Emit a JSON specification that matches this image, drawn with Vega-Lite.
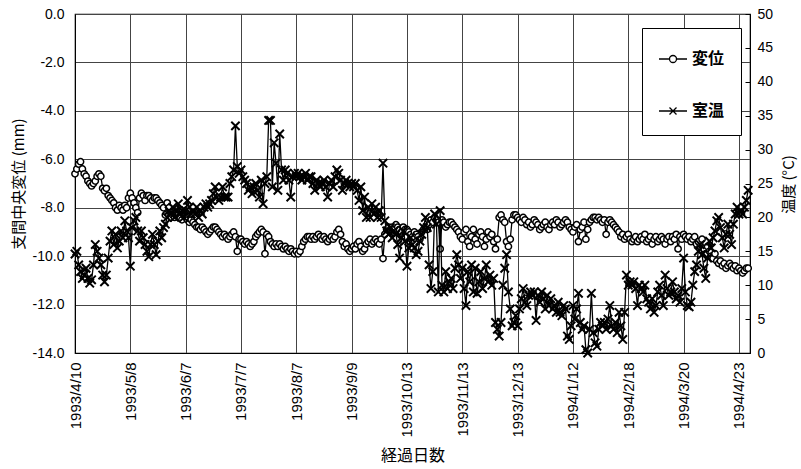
{
"$schema":"https://vega.github.io/schema/vega-lite/v6.json",
"width":675,"height":339,"autosize":"none",
"padding":{"left":75,"top":14,"right":51,"bottom":116},
"background":"white",
"config":{"view":{"stroke":"black","strokeWidth":1.2},
"axis":{"labelFont":"Liberation Sans","labelFontSize":14,"labelColor":"black","titleFont":"Noto Sans CJK JP","titleFontSize":15,"titleFontWeight":"normal","titleColor":"black","gridColor":"#444","gridWidth":1,"gridOpacity":1,"domainColor":"black","tickColor":"black"},
"legend":{"labelFont":"Noto Sans CJK JP","labelFontSize":16,"labelFontWeight":"bold","labelColor":"black"}},
"data":{"values":[
{"i":0,"d":-6.6,"t":14.6},{"i":1,"d":-6.4,"t":15.0},{"i":2,"d":-6.2,"t":13.0},{"i":3,"d":-6.1,"t":12.0},{"i":4,"d":-6.4,"t":11.0},{"i":5,"d":-6.6,"t":11.5},{"i":6,"d":-6.7,"t":12.5},{"i":7,"d":-6.9,"t":11.0},{"i":8,"d":-7.0,"t":10.3},{"i":9,"d":-7.1,"t":10.8},
{"i":10,"d":-7.0,"t":13.0},{"i":11,"d":-6.9,"t":16.0},{"i":12,"d":-6.7,"t":15.0},{"i":13,"d":-6.6,"t":14.0},{"i":14,"d":-6.7,"t":13.0},{"i":15,"d":-7.2,"t":11.5},{"i":16,"d":-7.3,"t":10.5},{"i":17,"d":-7.2,"t":11.5},{"i":18,"d":-7.5,"t":14.0},{"i":19,"d":-7.6,"t":16.5},
{"i":20,"d":-7.7,"t":18.0},{"i":21,"d":-7.8,"t":16.0},{"i":22,"d":-8.0,"t":17.5},{"i":23,"d":-8.1,"t":15.5},{"i":24,"d":-7.9,"t":16.5},{"i":25,"d":-8.0,"t":18.0},{"i":26,"d":-8.1,"t":17.0},{"i":27,"d":-7.9,"t":19.5},{"i":28,"d":-8.0,"t":18.0},{"i":29,"d":-7.6,"t":17.0},
{"i":30,"d":-7.4,"t":12.8},{"i":31,"d":-7.6,"t":18.5},{"i":32,"d":-7.8,"t":19.5},{"i":33,"d":-8.0,"t":20.0},{"i":34,"d":-8.2,"t":18.0},{"i":35,"d":-7.6,"t":16.5},{"i":36,"d":-7.4,"t":18.0},{"i":37,"d":-7.5,"t":17.0},{"i":38,"d":-7.7,"t":16.0},{"i":39,"d":-7.5,"t":15.0},
{"i":40,"d":-7.5,"t":14.2},{"i":41,"d":-7.6,"t":16.0},{"i":42,"d":-7.7,"t":17.5},{"i":43,"d":-7.6,"t":16.0},{"i":44,"d":-7.6,"t":14.5},{"i":45,"d":-7.7,"t":16.5},{"i":46,"d":-7.8,"t":18.0},{"i":47,"d":-7.9,"t":17.0},{"i":48,"d":-8.0,"t":18.5},{"i":49,"d":-8.3,"t":19.0},
{"i":50,"d":-7.8,"t":20.0},{"i":51,"d":-8.0,"t":21.0},{"i":52,"d":-8.2,"t":20.5},{"i":53,"d":-8.3,"t":21.5},{"i":54,"d":-8.4,"t":20.0},{"i":55,"d":-8.2,"t":21.0},{"i":56,"d":-8.3,"t":22.0},{"i":57,"d":-8.4,"t":20.5},{"i":58,"d":-8.5,"t":21.0},{"i":59,"d":-8.3,"t":20.0},
{"i":60,"d":-8.4,"t":21.0},{"i":61,"d":-8.5,"t":22.5},{"i":62,"d":-8.6,"t":21.5},{"i":63,"d":-8.5,"t":20.5},{"i":64,"d":-8.6,"t":21.0},{"i":65,"d":-8.7,"t":20.5},{"i":66,"d":-8.8,"t":21.5},{"i":67,"d":-8.8,"t":20.0},{"i":68,"d":-8.9,"t":21.0},{"i":69,"d":-8.8,"t":20.5},
{"i":70,"d":-8.9,"t":21.5},{"i":71,"d":-9.0,"t":22.0},{"i":72,"d":-9.1,"t":21.5},{"i":73,"d":-9.0,"t":22.0},{"i":74,"d":-8.9,"t":22.5},{"i":75,"d":-8.8,"t":23.5},{"i":76,"d":-8.8,"t":24.5},{"i":77,"d":-8.9,"t":23.0},{"i":78,"d":-9.0,"t":22.5},{"i":79,"d":-9.1,"t":23.0},
{"i":80,"d":-9.2,"t":24.5},{"i":81,"d":-9.1,"t":23.0},{"i":82,"d":-9.2,"t":23.0},{"i":83,"d":-9.3,"t":23.0},{"i":84,"d":-9.2,"t":25.0},{"i":85,"d":-9.1,"t":26.0},{"i":86,"d":-9.0,"t":27.0},{"i":87,"d":-9.2,"t":33.5},{"i":88,"d":-9.8,"t":27.5},{"i":89,"d":-9.3,"t":26.5},
{"i":90,"d":-9.3,"t":27.0},{"i":91,"d":-9.4,"t":26.0},{"i":92,"d":-9.5,"t":25.5},{"i":93,"d":-9.4,"t":25.0},{"i":94,"d":-9.5,"t":24.0},{"i":95,"d":-9.6,"t":24.5},{"i":96,"d":-9.5,"t":23.5},{"i":97,"d":-9.4,"t":24.5},{"i":98,"d":-9.2,"t":25.0},{"i":99,"d":-9.1,"t":24.0},
{"i":100,"d":-9.0,"t":23.0},{"i":101,"d":-8.9,"t":25.5},{"i":102,"d":-9.0,"t":22.0},{"i":103,"d":-9.9,"t":25.0},{"i":104,"d":-9.1,"t":26.0},{"i":105,"d":-9.2,"t":34.3},{"i":106,"d":-9.4,"t":34.3},{"i":107,"d":-9.5,"t":24.5},{"i":108,"d":-9.6,"t":31.0},{"i":109,"d":-9.5,"t":28.0},
{"i":110,"d":-9.6,"t":24.0},{"i":111,"d":-9.5,"t":32.3},{"i":112,"d":-9.6,"t":27.0},{"i":113,"d":-9.7,"t":25.5},{"i":114,"d":-9.6,"t":27.0},{"i":115,"d":-9.7,"t":26.5},{"i":116,"d":-9.8,"t":25.5},{"i":117,"d":-9.7,"t":23.0},{"i":118,"d":-9.8,"t":26.0},{"i":119,"d":-9.9,"t":26.5},
{"i":120,"d":-9.8,"t":26.0},{"i":121,"d":-9.9,"t":26.5},{"i":122,"d":-9.8,"t":26.0},{"i":123,"d":-9.6,"t":25.5},{"i":124,"d":-9.4,"t":26.0},{"i":125,"d":-9.3,"t":26.5},{"i":126,"d":-9.2,"t":25.5},{"i":127,"d":-9.2,"t":26.0},{"i":128,"d":-9.3,"t":26.0},{"i":129,"d":-9.2,"t":25.0},
{"i":130,"d":-9.3,"t":24.0},{"i":131,"d":-9.2,"t":25.5},{"i":132,"d":-9.1,"t":25.0},{"i":133,"d":-9.2,"t":24.5},{"i":134,"d":-9.3,"t":25.0},{"i":135,"d":-9.2,"t":25.5},{"i":136,"d":-9.3,"t":24.5},{"i":137,"d":-9.4,"t":23.0},{"i":138,"d":-9.3,"t":25.0},{"i":139,"d":-9.2,"t":25.5},
{"i":140,"d":-9.3,"t":24.5},{"i":141,"d":-9.2,"t":26.0},{"i":142,"d":-9.0,"t":27.0},{"i":143,"d":-8.9,"t":26.5},{"i":144,"d":-9.1,"t":25.5},{"i":145,"d":-9.4,"t":24.0},{"i":146,"d":-9.6,"t":25.0},{"i":147,"d":-9.5,"t":25.5},{"i":148,"d":-9.7,"t":25.0},{"i":149,"d":-9.8,"t":24.5},
{"i":150,"d":-9.7,"t":25.0},{"i":151,"d":-9.6,"t":24.5},{"i":152,"d":-9.7,"t":25.0},{"i":153,"d":-9.5,"t":24.0},{"i":154,"d":-9.4,"t":22.5},{"i":155,"d":-9.6,"t":24.5},{"i":156,"d":-9.8,"t":21.0},{"i":157,"d":-9.7,"t":23.0},{"i":158,"d":-9.5,"t":20.0},{"i":159,"d":-9.4,"t":21.5},
{"i":160,"d":-9.3,"t":20.0},{"i":161,"d":-9.5,"t":22.0},{"i":162,"d":-9.4,"t":20.5},{"i":163,"d":-9.3,"t":21.5},{"i":164,"d":-9.4,"t":20.0},{"i":165,"d":-9.5,"t":21.0},{"i":166,"d":-9.3,"t":20.0},{"i":167,"d":-10.1,"t":28.0},{"i":168,"d":-9.1,"t":19.5},{"i":169,"d":-8.9,"t":18.0},
{"i":170,"d":-8.8,"t":17.5},{"i":171,"d":-8.9,"t":18.5},{"i":172,"d":-8.8,"t":17.0},{"i":173,"d":-8.9,"t":18.0},{"i":174,"d":-8.7,"t":17.5},{"i":175,"d":-8.8,"t":16.0},{"i":176,"d":-8.9,"t":14.0},{"i":177,"d":-9.0,"t":17.0},{"i":178,"d":-8.8,"t":18.0},{"i":179,"d":-8.9,"t":16.5},
{"i":180,"d":-8.9,"t":12.8},{"i":181,"d":-9.0,"t":15.5},{"i":182,"d":-9.1,"t":17.0},{"i":183,"d":-9.2,"t":16.0},{"i":184,"d":-9.0,"t":15.5},{"i":185,"d":-9.1,"t":14.5},{"i":186,"d":-9.2,"t":15.0},{"i":187,"d":-9.3,"t":16.5},{"i":188,"d":-9.0,"t":17.5},{"i":189,"d":-8.9,"t":18.5},
{"i":190,"d":-8.8,"t":20.0},{"i":191,"d":-8.9,"t":18.5},{"i":192,"d":-8.7,"t":13.0},{"i":193,"d":-8.5,"t":9.5},{"i":194,"d":-8.6,"t":12.0},{"i":195,"d":-8.4,"t":20.5},{"i":196,"d":-8.5,"t":19.0},{"i":197,"d":-8.6,"t":9.0},{"i":198,"d":-9.7,"t":21.0},{"i":199,"d":-8.5,"t":10.0},
{"i":200,"d":-8.6,"t":9.0},{"i":201,"d":-8.8,"t":12.0},{"i":202,"d":-8.7,"t":9.5},{"i":203,"d":-8.6,"t":10.5},{"i":204,"d":-8.6,"t":11.0},{"i":205,"d":-8.7,"t":9.5},{"i":206,"d":-8.8,"t":12.5},{"i":207,"d":-8.9,"t":14.5},{"i":208,"d":-9.0,"t":13.0},{"i":209,"d":-9.2,"t":11.0},
{"i":210,"d":-9.3,"t":12.5},{"i":211,"d":-9.0,"t":9.5},{"i":212,"d":-8.9,"t":7.0},{"i":213,"d":-9.4,"t":12.0},{"i":214,"d":-9.6,"t":10.5},{"i":215,"d":-9.2,"t":13.0},{"i":216,"d":-8.9,"t":9.0},{"i":217,"d":-9.3,"t":12.5},{"i":218,"d":-9.5,"t":8.8},{"i":219,"d":-9.1,"t":10.5},
{"i":220,"d":-9.0,"t":12.0},{"i":221,"d":-9.2,"t":9.5},{"i":222,"d":-9.6,"t":11.0},{"i":223,"d":-9.3,"t":13.0},{"i":224,"d":-9.0,"t":10.5},{"i":225,"d":-9.2,"t":11.5},{"i":226,"d":-9.1,"t":10.0},{"i":227,"d":-9.4,"t":11.0},{"i":228,"d":-9.7,"t":4.5},{"i":229,"d":-9.3,"t":3.5},
{"i":230,"d":-8.4,"t":2.5},{"i":231,"d":-8.3,"t":4.5},{"i":232,"d":-8.5,"t":10.0},{"i":233,"d":-8.6,"t":12.5},{"i":234,"d":-9.4,"t":14.5},{"i":235,"d":-9.6,"t":9.0},{"i":236,"d":-9.3,"t":6.5},{"i":237,"d":-8.5,"t":4.0},{"i":238,"d":-8.3,"t":4.5},{"i":239,"d":-8.3,"t":5.5},
{"i":240,"d":-8.4,"t":4.0},{"i":241,"d":-8.5,"t":6.5},{"i":242,"d":-8.6,"t":8.0},{"i":243,"d":-8.4,"t":9.5},{"i":244,"d":-8.5,"t":7.5},{"i":245,"d":-8.7,"t":7.0},{"i":246,"d":-8.6,"t":8.5},{"i":247,"d":-8.8,"t":9.0},{"i":248,"d":-8.7,"t":8.5},{"i":249,"d":-8.5,"t":9.0},
{"i":250,"d":-8.6,"t":4.8},{"i":251,"d":-8.7,"t":8.5},{"i":252,"d":-8.9,"t":7.5},{"i":253,"d":-8.8,"t":9.0},{"i":254,"d":-8.7,"t":8.0},{"i":255,"d":-8.6,"t":6.5},{"i":256,"d":-8.8,"t":8.5},{"i":257,"d":-8.9,"t":7.0},{"i":258,"d":-8.7,"t":8.0},{"i":259,"d":-8.6,"t":6.5},
{"i":260,"d":-8.7,"t":7.0},{"i":261,"d":-8.5,"t":6.0},{"i":262,"d":-8.6,"t":7.5},{"i":263,"d":-8.8,"t":6.0},{"i":264,"d":-8.7,"t":5.5},{"i":265,"d":-8.6,"t":7.0},{"i":266,"d":-8.5,"t":6.5},{"i":267,"d":-8.6,"t":2.5},{"i":268,"d":-8.8,"t":2.0},{"i":269,"d":-8.9,"t":4.0},
{"i":270,"d":-9.0,"t":7.0},{"i":271,"d":-8.8,"t":5.0},{"i":272,"d":-8.7,"t":6.5},{"i":273,"d":-9.4,"t":8.8},{"i":274,"d":-8.9,"t":4.5},{"i":275,"d":-8.8,"t":3.5},{"i":276,"d":-8.6,"t":4.0},{"i":277,"d":-9.3,"t":0.5},{"i":278,"d":-8.9,"t":0.0},{"i":279,"d":-8.6,"t":3.5},
{"i":280,"d":-8.5,"t":8.8},{"i":281,"d":-8.4,"t":3.0},{"i":282,"d":-8.4,"t":1.5},{"i":283,"d":-8.5,"t":1.0},{"i":284,"d":-8.4,"t":3.5},{"i":285,"d":-8.5,"t":4.5},{"i":286,"d":-8.6,"t":4.0},{"i":287,"d":-8.5,"t":4.5},{"i":288,"d":-9.1,"t":3.5},{"i":289,"d":-8.6,"t":5.0},
{"i":290,"d":-8.5,"t":7.0},{"i":291,"d":-8.6,"t":4.0},{"i":292,"d":-8.7,"t":3.5},{"i":293,"d":-8.8,"t":4.5},{"i":294,"d":-8.9,"t":3.0},{"i":295,"d":-9.0,"t":6.0},{"i":296,"d":-9.2,"t":4.0},{"i":297,"d":-9.1,"t":2.0},{"i":298,"d":-9.3,"t":6.0},{"i":299,"d":-9.2,"t":11.5},
{"i":300,"d":-9.1,"t":10.0},{"i":301,"d":-9.3,"t":10.5},{"i":302,"d":-9.4,"t":10.0},{"i":303,"d":-9.3,"t":10.5},{"i":304,"d":-9.2,"t":9.5},{"i":305,"d":-9.4,"t":7.0},{"i":306,"d":-9.3,"t":10.0},{"i":307,"d":-9.2,"t":9.5},{"i":308,"d":-9.3,"t":9.0},{"i":309,"d":-9.1,"t":10.0},
{"i":310,"d":-9.4,"t":8.0},{"i":311,"d":-9.3,"t":7.5},{"i":312,"d":-9.2,"t":6.5},{"i":313,"d":-9.5,"t":8.0},{"i":314,"d":-9.3,"t":6.0},{"i":315,"d":-9.2,"t":7.0},{"i":316,"d":-9.4,"t":9.0},{"i":317,"d":-9.3,"t":10.0},{"i":318,"d":-9.2,"t":8.5},{"i":319,"d":-9.3,"t":7.0},
{"i":320,"d":-9.5,"t":11.5},{"i":321,"d":-9.3,"t":9.5},{"i":322,"d":-9.2,"t":8.5},{"i":323,"d":-9.4,"t":9.0},{"i":324,"d":-9.2,"t":10.5},{"i":325,"d":-9.3,"t":9.0},{"i":326,"d":-9.1,"t":8.0},{"i":327,"d":-9.7,"t":8.5},{"i":328,"d":-9.2,"t":7.5},{"i":329,"d":-9.3,"t":9.5},
{"i":330,"d":-9.1,"t":14.0},{"i":331,"d":-9.2,"t":9.0},{"i":332,"d":-9.3,"t":7.0},{"i":333,"d":-9.2,"t":6.8},{"i":334,"d":-9.4,"t":7.5},{"i":335,"d":-9.3,"t":10.0},{"i":336,"d":-9.2,"t":12.0},{"i":337,"d":-9.5,"t":13.0},{"i":338,"d":-9.4,"t":15.0},{"i":339,"d":-9.6,"t":16.0},
{"i":340,"d":-9.3,"t":14.5},{"i":341,"d":-9.7,"t":12.5},{"i":342,"d":-9.9,"t":11.0},{"i":343,"d":-9.6,"t":14.0},{"i":344,"d":-9.8,"t":16.5},{"i":345,"d":-10.0,"t":15.5},{"i":346,"d":-10.1,"t":17.0},{"i":347,"d":-9.9,"t":18.0},{"i":348,"d":-10.2,"t":19.5},{"i":349,"d":-10.3,"t":20.0},
{"i":350,"d":-10.2,"t":18.5},{"i":351,"d":-10.4,"t":17.0},{"i":352,"d":-10.3,"t":15.5},{"i":353,"d":-10.5,"t":17.5},{"i":354,"d":-10.4,"t":19.0},{"i":355,"d":-10.3,"t":17.5},{"i":356,"d":-10.4,"t":16.0},{"i":357,"d":-10.5,"t":19.0},{"i":358,"d":-10.4,"t":20.5},{"i":359,"d":-10.6,"t":21.5},
{"i":360,"d":-10.5,"t":20.5},{"i":361,"d":-10.6,"t":21.0},{"i":362,"d":-10.7,"t":20.5},{"i":363,"d":-10.6,"t":21.5},{"i":364,"d":-10.5,"t":22.5},{"i":365,"d":-10.5,"t":24.0}
]},
"layer":[
{"layer":[
{"mark":{"type":"line","color":"black","strokeWidth":1.3},
"encoding":{
"x":{"field":"i","type":"quantitative","scale":{"domain":[0,366],"nice":false,"zero":false},"axis":{"values":[0,30,60,90,120,150,180,210,240,270,300,330,360],"labelExpr":"['1993/4/10','1993/5/8','1993/6/7','1993/7/7','1993/8/7','1993/9/9','1993/10/13','1993/11/13','1993/12/13','1994/1/12','1994/2/18','1994/3/20','1994/4/23'][round(datum.value/30)]","labelAngle":-90,"labelFontSize":15,"labelPadding":9,"ticks":false,"grid":true,"title":"経過日数","titleFontSize":16,"titlePadding":10}},
"y":{"field":"d","type":"quantitative","scale":{"domain":[-14,0],"nice":false},"axis":{"values":[-14,-12,-10,-8,-6,-4,-2,0],"labelExpr":"(datum.value < 0 ? '-' : '') + format(abs(datum.value), '.1f')","ticks":false,"labelPadding":11,"grid":true,"title":"支間中央変位 (mm)","titlePadding":6}}}},
{"mark":{"type":"point","shape":"circle","filled":true,"fill":"white","stroke":"black","strokeWidth":1.5,"size":40,"opacity":1},
"encoding":{
"x":{"field":"i","type":"quantitative","scale":{"domain":[0,366],"nice":false,"zero":false},"axis":{"values":[0,30,60,90,120,150,180,210,240,270,300,330,360],"labelExpr":"['1993/4/10','1993/5/8','1993/6/7','1993/7/7','1993/8/7','1993/9/9','1993/10/13','1993/11/13','1993/12/13','1994/1/12','1994/2/18','1994/3/20','1994/4/23'][round(datum.value/30)]","labelAngle":-90,"labelFontSize":15,"labelPadding":9,"ticks":false,"grid":true,"title":"経過日数","titleFontSize":16,"titlePadding":10}},
"y":{"field":"d","type":"quantitative","scale":{"domain":[-14,0],"nice":false},"axis":{"values":[-14,-12,-10,-8,-6,-4,-2,0],"labelExpr":"(datum.value < 0 ? '-' : '') + format(abs(datum.value), '.1f')","ticks":false,"labelPadding":11,"grid":true,"title":"支間中央変位 (mm)","titlePadding":6}}}}
]},
{"layer":[
{"mark":{"type":"line","color":"black","strokeWidth":1.3},
"encoding":{
"x":{"field":"i","type":"quantitative","scale":{"domain":[0,366],"nice":false,"zero":false},"axis":{"values":[0,30,60,90,120,150,180,210,240,270,300,330,360],"labelExpr":"['1993/4/10','1993/5/8','1993/6/7','1993/7/7','1993/8/7','1993/9/9','1993/10/13','1993/11/13','1993/12/13','1994/1/12','1994/2/18','1994/3/20','1994/4/23'][round(datum.value/30)]","labelAngle":-90,"labelFontSize":15,"labelPadding":9,"ticks":false,"grid":true,"title":"経過日数","titleFontSize":16,"titlePadding":10}},
"y":{"field":"t","type":"quantitative","scale":{"domain":[0,50],"nice":false},"axis":{"orient":"right","values":[0,5,10,15,20,25,30,35,40,45,50],"tickSize":-5,"labelPadding":12,"grid":false,"title":"温度 (°C)","titleAngle":-90,"titleX":38,"titleY":170,"titleAlign":"center","titleBaseline":"middle"}}}},
{"mark":{"type":"point","shape":"M-1,-1L1,1M-1,1L1,-1","filled":false,"stroke":"black","strokeWidth":2,"size":70,"opacity":1},
"encoding":{
"x":{"field":"i","type":"quantitative","scale":{"domain":[0,366],"nice":false,"zero":false},"axis":{"values":[0,30,60,90,120,150,180,210,240,270,300,330,360],"labelExpr":"['1993/4/10','1993/5/8','1993/6/7','1993/7/7','1993/8/7','1993/9/9','1993/10/13','1993/11/13','1993/12/13','1994/1/12','1994/2/18','1994/3/20','1994/4/23'][round(datum.value/30)]","labelAngle":-90,"labelFontSize":15,"labelPadding":9,"ticks":false,"grid":true,"title":"経過日数","titleFontSize":16,"titlePadding":10}},
"y":{"field":"t","type":"quantitative","scale":{"domain":[0,50],"nice":false},"axis":{"orient":"right","values":[0,5,10,15,20,25,30,35,40,45,50],"tickSize":-5,"labelPadding":12,"grid":false,"title":"温度 (°C)","titleAngle":-90,"titleX":38,"titleY":170,"titleAlign":"center","titleBaseline":"middle"}}}}
]},
{"data":{"values":[{"s":"変位"},{"s":"室温"}]},
"mark":{"type":"point","filled":false,"opacity":0},
"encoding":{"shape":{"field":"s","type":"nominal","scale":{"domain":["変位","室温"],"range":["M-1,0H-0.25M0.25,0H1M0.25,0A0.25,0.25,0,1,1,-0.25,0A0.25,0.25,0,1,1,0.25,0","M-1,0H1M-0.25,-0.25L0.25,0.25M-0.25,0.25L0.25,-0.25"]},
"legend":{"title":null,"orient":"none","legendX":567,"legendY":14,"fillColor":"white","strokeColor":"black","padding":16,"rowPadding":29,"symbolSize":784,"symbolOpacity":1,"symbolStrokeColor":"black","symbolFillColor":"white","symbolStrokeWidth":1.3,"labelOffset":4}}}}
],
"resolve":{"scale":{"y":"independent"}}
}
